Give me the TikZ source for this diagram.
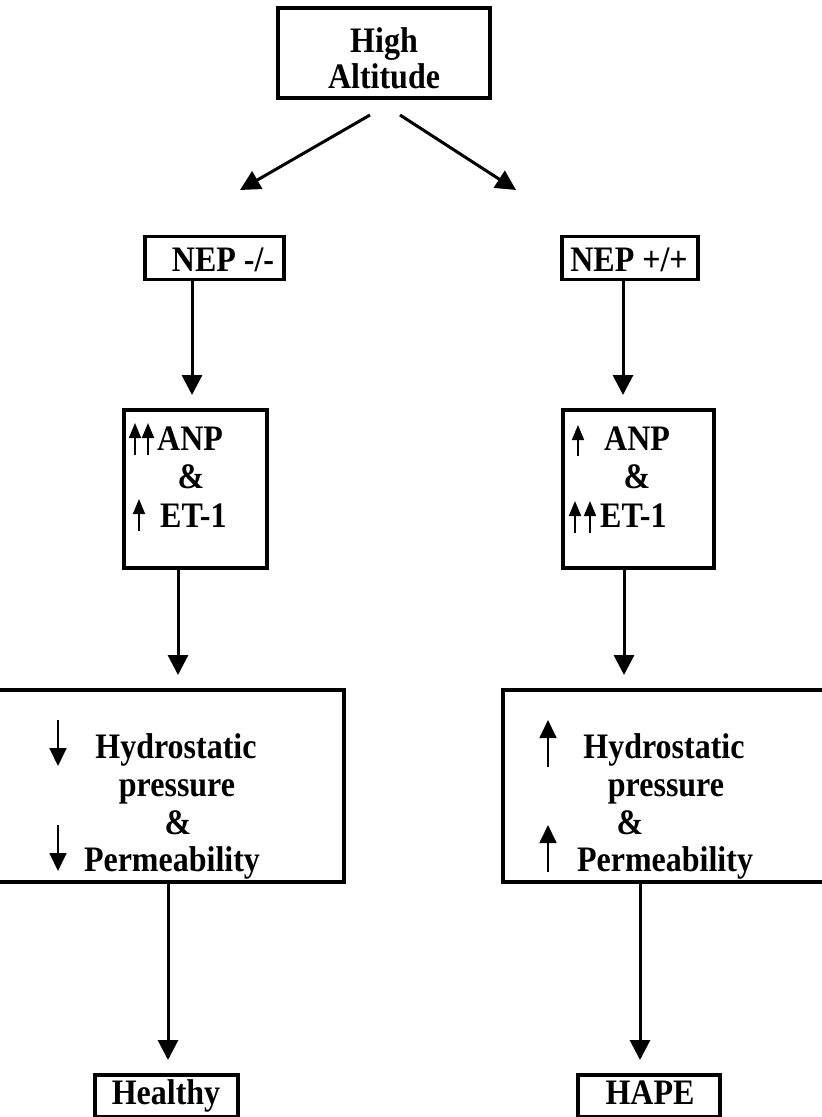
\documentclass[tikz,border=0pt]{standalone}
\usepackage{fontspec}
\setmainfont{Liberation Serif}
\usetikzlibrary{arrows.meta}
% tall bold lettering used for every label
\newcommand{\tall}[1]{\scalebox{1}[1.12]{#1}}
\begin{document}
\begin{tikzpicture}[x=1pt,y=-1pt,
  box/.style={draw, line width=3.4pt, inner sep=0pt},
  lbl/.style={font=\fontsize{32}{38}\selectfont\bfseries, inner sep=0pt},
  flow/.style={line width=3pt, -{Triangle[width=20pt,length=20pt]}},
  bigmark/.style={line width=1.8pt, -{Triangle[width=17pt,length=18pt]}},
  smallmark/.style={line width=1.7pt, -{Triangle[width=12pt,length=15pt]}},
]
\useasboundingbox (0,0) rectangle (822,1117);

% boxes
\node[box, minimum width=212pt, minimum height=90pt] (alt) at (384,53) {};
\node[box, minimum width=139pt, minimum height=43pt] (nepL) at (214.5,258) {};
\node[box, minimum width=136pt, minimum height=43pt] (nepR) at (630,258) {};
\node[box, minimum width=143pt, minimum height=158pt] (anpL) at (195.5,489) {};
\node[box, minimum width=151pt, minimum height=158pt] (anpR) at (638.5,489) {};
\node[box, minimum width=352pt, minimum height=192pt] (hydL) at (168,786) {};
\node[box, minimum width=326pt, minimum height=192pt] (hydR) at (666,786) {};
\node[box, minimum width=143pt, minimum height=42pt] (healthy) at (166.5,1096) {};
\node[box, minimum width=142pt, minimum height=42pt] (hape) at (649,1096) {};

% texts
\node[lbl, anchor=base] (tAlt1) at (384,52) {\tall{High}};
\node[lbl, anchor=base] (tAlt2) at (384,88) {\tall{Altitude}};
\node[lbl, anchor=base] (tNepL) at (223,271) {\tall{NEP -/-}};
\node[lbl, anchor=base] (tNepR) at (629,271) {\tall{NEP +/+}};

\node[lbl, anchor=base west] (tAnpL1) at (157,450) {\tall{ANP}};
\node[lbl, anchor=base] (tAnpL2) at (191,488) {\tall{\&}};
\node[lbl, anchor=base west] (tAnpL3) at (160,527) {\tall{ET-1}};
\node[lbl, anchor=base west] (tAnpR1) at (604,450) {\tall{ANP}};
\node[lbl, anchor=base] (tAnpR2) at (637,488) {\tall{\&}};
\node[lbl, anchor=base west] (tAnpR3) at (600,527) {\tall{ET-1}};

\node[lbl, anchor=base] (tHydL1) at (176,758) {\tall{Hydrostatic}};
\node[lbl, anchor=base] (tHydL2) at (177,796) {\tall{pressure}};
\node[lbl, anchor=base] (tHydL3) at (178,834) {\tall{\&}};
\node[lbl, anchor=base] (tHydL4) at (172,871) {\tall{Permeability}};
\node[lbl, anchor=base] (tHydR1) at (664,758) {\tall{Hydrostatic}};
\node[lbl, anchor=base] (tHydR2) at (666,796) {\tall{pressure}};
\node[lbl, anchor=base] (tHydR3) at (630,834) {\tall{\&}};
\node[lbl, anchor=base] (tHydR4) at (665,871) {\tall{Permeability}};

\node[lbl, anchor=base] (tHealthy) at (166,1104) {\tall{Healthy}};
\node[lbl, anchor=base] (tHape) at (650,1104) {\tall{HAPE}};

% connector end points
\coordinate (sL) at (370,115);
\coordinate (sR) at (400,115);
\coordinate (eL) at (240,190);
\coordinate (eR) at (516,190);
\coordinate (a1) at (192,395);
\coordinate (a2) at (623,395);
\coordinate (b1) at (178,675);
\coordinate (b2) at (624,675);
\coordinate (c1) at (168,1060);
\coordinate (c2) at (640,1060);

% connectors
\draw[flow] (sL) -- (eL);
\draw[flow] (sR) -- (eR);
\draw[flow] (a1 |- nepL.south) -- (a1);
\draw[flow] (a2 |- nepR.south) -- (a2);
\draw[flow] (b1 |- anpL.south) -- (b1);
\draw[flow] (b2 |- anpR.south) -- (b2);
\draw[flow] (c1 |- hydL.south) -- (c1);
\draw[flow] (c2 |- hydR.south) -- (c2);

% small level marks inside the boxes
\draw[smallmark] (135,455) -- (135,423);
\draw[smallmark] (148,455) -- (148,423);
\draw[smallmark] (139,531) -- (139,499);
\draw[smallmark] (578,456) -- (578,425);
\draw[smallmark] (575,533) -- (575,501);
\draw[smallmark] (590,533) -- (590,501);

\draw[bigmark] (58,720) -- (58,766);
\draw[bigmark] (58,825) -- (58,871);
\draw[bigmark] (548,767) -- (548,720);
\draw[bigmark] (548,872) -- (548,825);
\end{tikzpicture}
\end{document}
